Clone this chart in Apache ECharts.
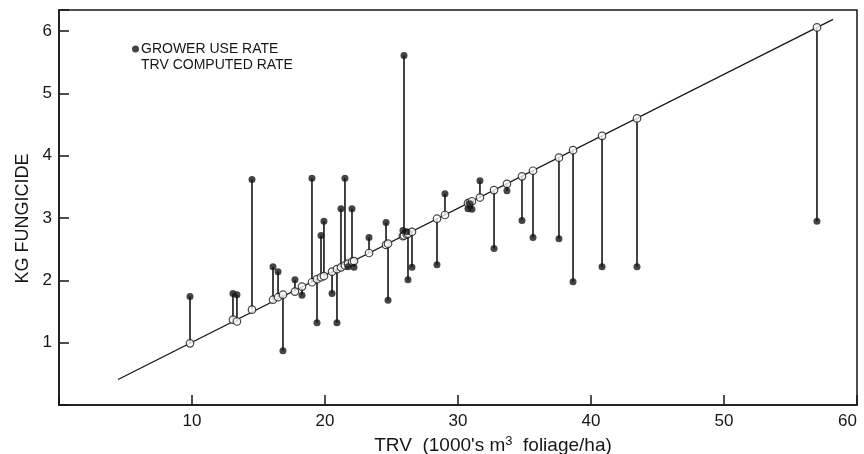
<!DOCTYPE html>
<html>
<head>
<meta charset="utf-8">
<script src="https://cdn.jsdelivr.net/npm/echarts@6/dist/echarts.min.js"></script>
<style>
  html, body { margin: 0; padding: 0; background: #fff; }
  #main { width: 864px; height: 454px; }
</style>
</head>
<body>
<div id="main"></div>
<script>
// TRV (1000's m3 foliage/ha) for each grower
const trv = [9.85, 13.08, 13.38, 14.51, 16.09, 16.47, 16.84, 17.74, 18.27, 19.02,
  19.40, 19.70, 19.92, 20.53, 20.90, 21.20, 21.50, 21.73, 22.03, 22.18,
  23.31, 24.59, 24.74, 25.86, 25.94, 26.15, 26.24, 26.54, 28.42, 29.02,
  30.75, 30.90, 31.05, 31.65, 32.71, 33.68, 34.81, 35.64, 37.59, 38.65,
  40.83, 43.46, 56.99];
// grower use rate (kg fungicide)
const growerRate = [1.74, 1.79, 1.77, 3.62, 2.22, 2.14, 0.87, 2.01, 1.76, 3.64,
  1.32, 2.72, 2.95, 1.79, 1.32, 3.15, 3.64, 2.22, 3.15, 2.21,
  2.69, 2.93, 1.68, 2.80, 5.61, 2.78, 2.01, 2.21, 2.25, 3.39,
  3.15, 3.23, 3.14, 3.60, 2.51, 3.44, 2.96, 2.69, 2.67, 1.98,
  2.22, 2.22, 2.95];
// TRV computed rate (kg fungicide)
const trvRate = [0.99, 1.37, 1.34, 1.53, 1.69, 1.73, 1.77, 1.82, 1.90, 1.97,
  2.02, 2.05, 2.07, 2.14, 2.18, 2.21, 2.24, 2.27, 2.30, 2.31,
  2.44, 2.57, 2.59, 2.71, 2.72, 2.74, 2.75, 2.78, 2.99, 3.05,
  3.24, 3.25, 3.27, 3.33, 3.45, 3.55, 3.67, 3.76, 3.97, 4.09,
  4.32, 4.60, 6.06];
// regression line end points
const lineX = [4.44, 58.2];
const lineY = [0.41, 6.19];

const xTicks = [10, 20, 30, 40, 50, 60];
const yTicks = [1, 2, 3, 4, 5, 6];

const ink = '#161616';
const font = '"Liberation Sans", Arial, sans-serif';

const chart = echarts.init(document.getElementById('main'));

const stems = trv.map((x, i) => [x, growerRate[i], trvRate[i]]);

const option = {
  backgroundColor: '#fff',
  animation: false,
  textStyle: { fontFamily: font, color: ink },
  grid: {
    left: 59, right: 7, top: 10, bottom: 49,
    containLabel: false, outerBoundsMode: 'none',
    show: true, borderColor: ink, borderWidth: 1.5
  },
  legend: {
    orient: 'vertical',
    left: 127, top: 37,
    itemWidth: 7, itemHeight: 7, itemGap: 2,
    textStyle: { fontFamily: font, fontSize: 14, color: ink, padding: [0, 0, 0, -3] },
    data: [
      { name: 'GROWER USE RATE', icon: 'circle' },
      { name: 'TRV COMPUTED RATE', icon: 'none' }
    ]
  },
  xAxis: {
    type: 'value', min: 0, max: 60, interval: 10,
    splitLine: { show: false },
    axisLine: { lineStyle: { color: ink, width: 1.5 } },
    axisTick: { inside: true, length: 10, lineStyle: { color: ink, width: 1.5 } },
    axisLabel: {
      color: ink, fontSize: 17, margin: 8,
      alignMaxLabel: 'right',
      formatter: v => xTicks.includes(v) ? String(v) : ''
    },
    name: "TRV  (1000's m{sup|3}  foliage/ha)",
    nameLocation: 'middle', nameGap: 28,
    nameTextStyle: {
      fontSize: 19, color: ink, padding: [0, 0, 0, 70],
      rich: { sup: { fontSize: 13, verticalAlign: 'top', padding: [0, 0, 9, 0] } }
    }
  },
  yAxis: {
    type: 'value', min: 0, max: 6.34, interval: 1,
    splitLine: { show: false },
    axisLine: { lineStyle: { color: ink, width: 1.5 } },
    axisTick: { inside: true, length: 10, lineStyle: { color: ink, width: 1.5 } },
    axisLabel: {
      color: ink, fontSize: 17, margin: 7,
      formatter: v => yTicks.includes(v) ? String(v) : ''
    },
    name: 'KG FUNGICIDE',
    nameLocation: 'middle', nameGap: 26,
    nameTextStyle: { fontSize: 18, color: ink, padding: [0, 22, 0, 0] }
  },
  series: [
    {
      name: 'fit',
      type: 'line',
      data: lineX.map((x, i) => [x, lineY[i]]),
      symbol: 'none',
      lineStyle: { color: ink, width: 1.3 },
      z: 1
    },
    {
      name: 'stems',
      type: 'custom',
      data: stems,
      renderItem: (params, api) => {
        const a = api.coord([api.value(0), api.value(1)]);
        const b = api.coord([api.value(0), api.value(2)]);
        return {
          type: 'line',
          shape: { x1: a[0], y1: a[1], x2: b[0], y2: b[1] },
          style: { stroke: ink, lineWidth: 1.6 }
        };
      },
      z: 2
    },
    {
      name: 'TRV COMPUTED RATE',
      type: 'scatter',
      data: trv.map((x, i) => [x, trvRate[i]]),
      symbol: 'circle',
      symbolSize: 7.5,
      itemStyle: { color: '#fff', borderColor: ink, borderWidth: 1.2 },
      z: 3
    },
    {
      name: 'GROWER USE RATE',
      type: 'scatter',
      data: trv.map((x, i) => [x, growerRate[i]]),
      symbol: 'circle',
      symbolSize: 7,
      itemStyle: { color: ink },
      z: 4
    }
  ]
};

chart.setOption(option);
</script>
</body>
</html>
